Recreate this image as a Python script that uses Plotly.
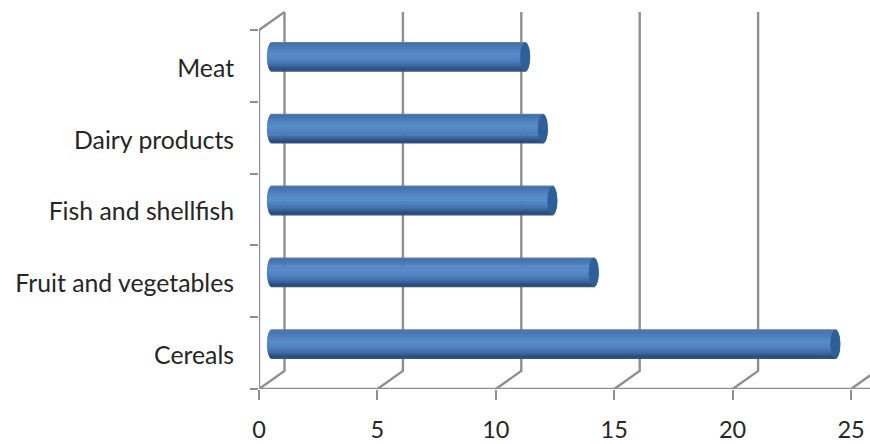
import numpy as np
import plotly.graph_objects as go

categories = ["Cereals", "Fruit and vegetables", "Fish and shellfish", "Dairy products", "Meat"]
values = [23.8, 13.6, 11.85, 11.45, 10.7]
x_ticks = [0, 5, 10, 15, 20, 25]

WIDTH, HEIGHT = 870, 444
LEFT, RIGHT, TOP, BOTTOM = 259, 0, 11, 55
X_UNIT = 23.68   # pixels per x unit
Y_UNIT = 71.8    # pixels per category band
DEPTH_X = 25.5 / X_UNIT
DEPTH_Y = 18 / Y_UNIT
BAR_HEIGHT = 0.405
CAP_RX = 4.8 / X_UNIT
GRID = "#8f8f8f"
TEXT = "#262626"
FONT = "Lato"
LABEL_SIZE = 24.8
TICK_SIZE = 23.5

x_max = (WIDTH - LEFT - RIGHT) / X_UNIT
y_max = (HEIGHT - TOP - BOTTOM) / Y_UNIT
n = len(categories)

fig = go.Figure()


def wall_line(xs, ys):
    fig.add_trace(go.Scatter(x=xs, y=ys, mode="lines", hoverinfo="skip", showlegend=False,
                             cliponaxis=False, line=dict(color=GRID, width=2.4)))


# Floor, side wall and back-wall gridlines of the 3-D frame
wall_line([x_ticks[0], x_max], [0, 0])
wall_line([0, 0, DEPTH_X], [0, n, n + DEPTH_Y])
for t in x_ticks:
    wall_line([t, t + DEPTH_X, t + DEPTH_X], [0, DEPTH_Y, n + DEPTH_Y])

# Cylinder shading, top to bottom across the bar's height
stops_u = [-1.0, -0.9, -0.6, -0.15, 0.25, 0.55, 0.78, 0.92, 1.0]
stops_rgb = [(120, 138, 160), (66, 112, 170), (76, 125, 185), (88, 140, 203), (80, 130, 191),
             (65, 112, 168), (48, 90, 142), (36, 70, 116), (70, 92, 124)]
strips = 30
us = np.linspace(-1, 1, strips + 1)
us = (us[:-1] + us[1:]) / 2
base = DEPTH_X / 2
strip_px = BAR_HEIGHT * Y_UNIT / strips + 0.7

for u in us:
    rgb = [np.interp(u, stops_u, [c[i] for c in stops_rgb]) for i in range(3)]
    bulge = CAP_RX * np.sqrt(1 - u ** 2)
    xs, ys = [], []
    for i, v in enumerate(values):
        yc = i + 0.5 + DEPTH_Y / 2 - u * BAR_HEIGHT / 2
        xs += [base - bulge, base + v + bulge, None]
        ys += [yc, yc, None]
    fig.add_trace(go.Scatter(x=xs, y=ys, mode="lines", hoverinfo="skip", showlegend=False,
                             line=dict(color=f"rgb({rgb[0]:.0f},{rgb[1]:.0f},{rgb[2]:.0f})",
                                       width=strip_px)))

# Darker elliptical end cap at the value end of each cylinder
theta = np.linspace(0, 2 * np.pi, 60)
for i, v in enumerate(values):
    fig.add_trace(go.Scatter(
        x=base + v + CAP_RX * np.cos(theta),
        y=i + 0.5 + DEPTH_Y / 2 + BAR_HEIGHT / 2 * 0.97 * np.sin(theta),
        mode="lines", fill="toself", fillcolor="#2f5f98", hoverinfo="skip", showlegend=False,
        line=dict(color="#2f5f98", width=0.5)))

fig.update_layout(
    width=WIDTH, height=HEIGHT, autosize=False,
    margin=dict(l=LEFT, r=RIGHT, t=TOP, b=BOTTOM, pad=0, autoexpand=False),
    paper_bgcolor="white", plot_bgcolor="white",
    font=dict(family=FONT, size=LABEL_SIZE, color=TEXT),
    xaxis=dict(range=[0, x_max], tickmode="array", tickvals=x_ticks, ticktext=[str(t) for t in x_ticks],
               showgrid=False, zeroline=False, showline=False, ticks="outside", ticklen=10,
               tickwidth=2.4, tickcolor=GRID, ticklabelstandoff=10, automargin=False,
               tickfont=dict(family=FONT, size=TICK_SIZE, color=TEXT)),
    yaxis=dict(range=[0, y_max], tickmode="array", tickvals=[i + 0.47 for i in range(n)],
               ticktext=categories, showgrid=False, zeroline=False, showline=False,
               ticks="outside", ticklen=19, tickwidth=1, tickcolor="rgba(0,0,0,0)", automargin=False,
               tickfont=dict(family=FONT, size=LABEL_SIZE, color=TEXT),
               minor=dict(tickmode="array", tickvals=list(range(n + 1)), ticks="outside",
                          ticklen=8, tickwidth=2.4, tickcolor=GRID, showgrid=False)),
)

fig.write_html("out.html", config=dict(displayModeBar=False))
